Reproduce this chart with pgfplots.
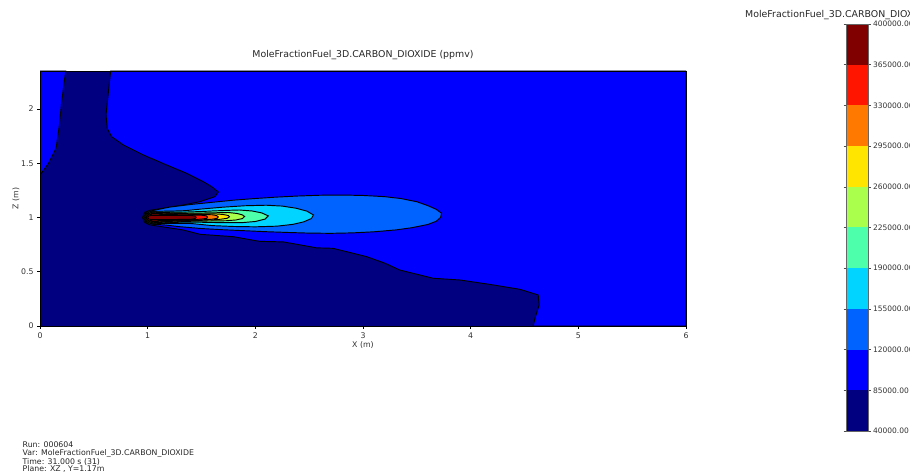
\documentclass[border=0pt]{standalone}
\usepackage{fontspec}
\setmainfont{DejaVu Sans}
\usepackage{pgfplots}
\pgfplotsset{compat=1.18}
\definecolor{c0}{HTML}{000080}
\definecolor{c1}{HTML}{0000FF}
\definecolor{c2}{HTML}{0062FF}
\definecolor{c3}{HTML}{00D4FF}
\definecolor{c4}{HTML}{4DFFAA}
\definecolor{c5}{HTML}{AAFF4D}
\definecolor{c6}{HTML}{FFE500}
\definecolor{c7}{HTML}{FF7800}
\definecolor{c8}{HTML}{FF1500}
\definecolor{c9}{HTML}{800000}
\begin{document}
\begin{tikzpicture}
\useasboundingbox (0pt,0pt) rectangle (910pt,476pt);
\begin{axis}[
  at={(40pt,150pt)}, anchor=south west,
  scale only axis, width=646pt, height=255pt,
  xmin=0, xmax=6, ymin=0, ymax=2.35,
  axis on top,
  xtick={0,1,2,3,4,5,6}, ytick={0,0.5,1,1.5,2},
  xtick pos=bottom, ytick pos=left,
  tick align=outside, major tick length=3pt,
  tick style={black, line width=0.5pt},
  axis line style={black, line width=0.6pt},
  /pgf/number format/assume math mode=true,
  tick label style={font=\fontsize{7.8}{8}\selectfont, text=black!80},
  xlabel={X (m)}, ylabel={Z (m)},
  label style={font=\fontsize{7.8}{8}\selectfont, text=black!80},
  xlabel style={at={(axis description cs:0.5,0)}, anchor=north, yshift=-12pt},
  ylabel style={at={(axis description cs:0,0.5)}, anchor=south, yshift=17pt},
  title={MoleFractionFuel\_3D.CARBON\_DIOXIDE (ppmv)},
  title style={font=\fontsize{9.4}{10}\selectfont, text=black!85, at={(axis description cs:0.5,1)}, anchor=south, yshift=1.5pt},
  every axis plot/.append style={line width=0.95pt, draw=black},
]
% background level 40000-85000
\addplot[fill=c0, draw=none] coordinates {(0,0) (6,0) (6,2.35) (0,2.35)} -- cycle;
% 85000-120000 top-left
\addplot[fill=c1] coordinates {(0,1.39) (0.08,1.5) (0.15,1.64) (0.18,1.85) (0.2,2.05) (0.225,2.25) (0.24,2.35) (0,2.35)} -- cycle;
% 85000-120000 main
\addplot[fill=c1] coordinates {
(0.656,2.35) (0.645,2.25) (0.634,2.145) (0.613,1.945) (0.625,1.82) (0.665,1.745)
(0.774,1.668) (0.96,1.576) (1.176,1.484) (1.362,1.407) (1.517,1.33) (1.60,1.28)
(1.656,1.235) (1.625,1.192) (1.486,1.146) (1.33,1.115) (1.145,1.085) (1.03,1.068)
(0.975,1.05) (0.952,1.0) (0.975,0.953) (1.02,0.932) (1.33,0.885) (1.486,0.845)
(1.795,0.823) (2.04,0.78) (2.26,0.775) (2.57,0.72) (2.72,0.716) (3.03,0.64)
(3.2,0.58) (3.34,0.516) (3.65,0.44) (3.9,0.424) (4.2,0.38) (4.457,0.338)
(4.627,0.286) (4.636,0.194) (4.6,0.08) (4.58,0) (6,0) (6,2.35)} -- cycle;
% 120000-155000
\addplot[fill=c2] coordinates {
(0.958,1.0) (0.968,1.037) (0.995,1.056) (1.05,1.064) (1.2,1.095) (1.4,1.12) (1.6,1.14)
(1.8,1.16) (2.0,1.175) (2.2,1.188) (2.4,1.198) (2.6,1.205) (2.8,1.207) (3.0,1.203)
(3.2,1.192) (3.35,1.175) (3.5,1.145) (3.6,1.11) (3.68,1.075) (3.73,1.039)
(3.72,1.0) (3.68,0.965) (3.6,0.935) (3.45,0.905) (3.3,0.885) (3.1,0.868) (2.9,0.858)
(2.7,0.854) (2.5,0.856) (2.3,0.862) (2.1,0.869) (1.9,0.878) (1.7,0.887) (1.5,0.898)
(1.3,0.915) (1.15,0.932) (1.05,0.937) (0.995,0.944) (0.968,0.963)} -- cycle;
% 155000-190000
\addplot[fill=c3] coordinates {
(0.965,1.0) (0.975,1.034) (1.0,1.051) (1.05,1.057) (1.2,1.058) (1.35,1.063) (1.5,1.078)
(1.7,1.095) (1.9,1.108) (2.1,1.113) (2.25,1.105) (2.38,1.085) (2.48,1.058) (2.54,1.023)
(2.52,0.99) (2.45,0.96) (2.35,0.937) (2.2,0.92) (2.0,0.914) (1.8,0.917) (1.6,0.925)
(1.4,0.945) (1.2,0.946) (1.05,0.943) (1.0,0.949) (0.975,0.966)} -- cycle;
% 190000-225000
\addplot[fill=c4] coordinates {
(0.97,1.0) (0.98,1.031) (1.005,1.047) (1.05,1.052) (1.2,1.05) (1.35,1.05) (1.5,1.055)
(1.6,1.06) (1.75,1.066) (1.85,1.069) (1.97,1.06) (2.06,1.042) (2.12,1.015) (2.09,0.985)
(2.0,0.963) (1.87,0.952) (1.7,0.952) (1.5,0.956) (1.35,0.958) (1.2,0.953) (1.05,0.948)
(1.005,0.953) (0.98,0.969)} -- cycle;
% 225000-260000
\addplot[fill=c5] coordinates {
(0.975,1.0) (0.985,1.028) (1.01,1.042) (1.05,1.047) (1.2,1.044) (1.35,1.041) (1.5,1.041)
(1.65,1.044) (1.75,1.046) (1.83,1.037) (1.88,1.024) (1.90,1.009) (1.88,0.99) (1.82,0.977)
(1.73,0.97) (1.6,0.968) (1.45,0.966) (1.35,0.964) (1.2,0.958) (1.05,0.953) (1.01,0.958)
(0.985,0.972)} -- cycle;
% 260000-295000
\addplot[fill=c6] coordinates {
(0.98,1.0) (0.99,1.025) (1.015,1.038) (1.05,1.042) (1.2,1.038) (1.35,1.035) (1.5,1.033)
(1.63,1.033) (1.7,1.028) (1.75,1.018) (1.76,1.006) (1.74,0.993) (1.68,0.984) (1.6,0.978)
(1.45,0.972) (1.35,0.969) (1.2,0.964) (1.05,0.958) (1.015,0.962) (0.99,0.975)} -- cycle;
% 295000-330000
\addplot[fill=c7] coordinates {
(0.985,1.0) (0.995,1.022) (1.02,1.033) (1.05,1.037) (1.2,1.033) (1.35,1.03) (1.52,1.027)
(1.6,1.025) (1.64,1.018) (1.656,1.005) (1.645,0.992) (1.6,0.984) (1.5,0.978) (1.35,0.973)
(1.2,0.969) (1.05,0.963) (1.02,0.967) (0.995,0.978)} -- cycle;
% 330000-365000
\addplot[fill=c8] coordinates {
(0.99,1.0) (1.0,1.019) (1.025,1.028) (1.05,1.031) (1.2,1.027) (1.35,1.024) (1.5,1.021)
(1.545,1.015) (1.557,1.003) (1.55,0.992) (1.5,0.985) (1.35,0.977) (1.2,0.973) (1.05,0.969)
(1.025,0.972) (1.0,0.981)} -- cycle;
% 365000-400000
\addplot[fill=c9] coordinates {
(1.0,1.0) (1.01,1.014) (1.03,1.019) (1.4,1.019) (1.44,1.013) (1.45,1.002) (1.44,0.99)
(1.4,0.982) (1.03,0.981) (1.01,0.986)} -- cycle;
\end{axis}
% colour bar
\begin{axis}[
  at={(846pt,45pt)}, anchor=south west,
  scale only axis, width=22pt, height=407pt,
  xmin=0, xmax=1, ymin=0, ymax=10,
  xtick=\empty, ytick={0,1,2,3,4,5,6,7,8,9,10},
  yticklabels={40000.00,85000.00,120000.00,155000.00,190000.00,225000.00,260000.00,295000.00,330000.00,365000.00,400000.00},
  yticklabel pos=right, tick align=outside, major tick length=2.5pt,
  tick style={black!70, line width=0.5pt},
  axis line style={black!60, line width=0.6pt},
  tick label style={font=\fontsize{7.5}{8}\selectfont, text=black!80, xshift=-1pt},
  axis on top,
]
\addplot[fill=c0, draw=none] coordinates {(0,0) (1,0) (1,1) (0,1)} -- cycle;
\addplot[fill=c1, draw=none] coordinates {(0,1) (1,1) (1,2) (0,2)} -- cycle;
\addplot[fill=c2, draw=none] coordinates {(0,2) (1,2) (1,3) (0,3)} -- cycle;
\addplot[fill=c3, draw=none] coordinates {(0,3) (1,3) (1,4) (0,4)} -- cycle;
\addplot[fill=c4, draw=none] coordinates {(0,4) (1,4) (1,5) (0,5)} -- cycle;
\addplot[fill=c5, draw=none] coordinates {(0,5) (1,5) (1,6) (0,6)} -- cycle;
\addplot[fill=c6, draw=none] coordinates {(0,6) (1,6) (1,7) (0,7)} -- cycle;
\addplot[fill=c7, draw=none] coordinates {(0,7) (1,7) (1,8) (0,8)} -- cycle;
\addplot[fill=c8, draw=none] coordinates {(0,8) (1,8) (1,9) (0,9)} -- cycle;
\addplot[fill=c9, draw=none] coordinates {(0,9) (1,9) (1,10) (0,10)} -- cycle;
\end{axis}
\node[anchor=west, font=\fontsize{9.4}{10}\selectfont, text=black!85, inner sep=0pt] at (745pt,461pt) {MoleFractionFuel\_3D.CARBON\_DIOXIDE (ppmv)};
\node[anchor=north west, align=left, font=\fontsize{7.8}{7.3}\selectfont, text=black!85, inner sep=0pt] at (22.5pt,34pt) {Run: 000604\\Var: MoleFractionFuel\_3D.CARBON\_DIOXIDE\\Time: 31.000 s (31)\\Plane: XZ , Y=1.17m};
\end{tikzpicture}
\end{document}
